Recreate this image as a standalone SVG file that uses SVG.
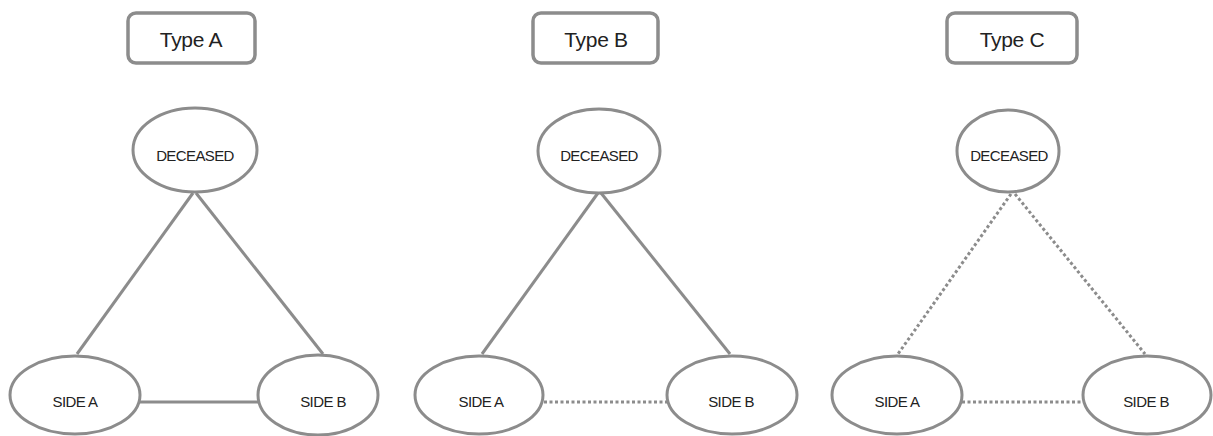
<svg xmlns="http://www.w3.org/2000/svg" width="1213" height="436" viewBox="0 0 1213 436">
<style>
.box{fill:#fff;stroke:#8c8c8c;stroke-width:3.5}
.node{fill:#fff;stroke:#8c8c8c;stroke-width:3}
.title{font-family:"Liberation Sans",Arial,sans-serif;font-size:21px;fill:#222;text-anchor:middle;letter-spacing:-0.3px}
.lbl{font-family:"Liberation Sans",Arial,sans-serif;font-size:15px;fill:#222;text-anchor:middle;letter-spacing:-0.6px}
.edge{fill:none;stroke:#8c8c8c;stroke-width:3}
.dot{stroke-dasharray:3 2.5}
</style>
<rect width="1213" height="436" fill="#fff"/>
<g id="connectors">
<line class="edge" x1="193" y1="193" x2="77" y2="354"/>
<line class="edge" x1="196" y1="193" x2="323" y2="354"/>
<line class="edge" x1="140" y1="402" x2="258" y2="402"/>
<line class="edge" x1="598" y1="193" x2="482" y2="354"/>
<line class="edge" x1="601" y1="193" x2="730" y2="354"/>
<line class="edge dot" x1="544" y1="402" x2="667" y2="402"/>
<line class="edge dot" x1="1011" y1="194" x2="898" y2="354"/>
<line class="edge dot" x1="1015" y1="194" x2="1145" y2="354"/>
<line class="edge dot" x1="962" y1="402" x2="1082" y2="402"/>
</g>
<g id="titleA"><rect class="box" x="128" y="13" width="127" height="50" rx="8"/><text class="title" x="191" y="47">Type A</text></g>
<g id="titleB"><rect class="box" x="533" y="13" width="125" height="50" rx="8"/><text class="title" x="596" y="47">Type B</text></g>
<g id="titleC"><rect class="box" x="947" y="13" width="130" height="50" rx="8"/><text class="title" x="1012" y="47">Type C</text></g>
<g id="deceasedA"><ellipse class="node" cx="195" cy="150" rx="62" ry="42"/><text class="lbl" x="195" y="161">DECEASED</text></g>
<g id="deceasedB"><ellipse class="node" cx="599" cy="151" rx="61" ry="42"/><text class="lbl" x="599" y="161">DECEASED</text></g>
<g id="deceasedC"><ellipse class="node" cx="1008" cy="151" rx="51" ry="41"/><text class="lbl" x="1009" y="161">DECEASED</text></g>
<g id="sideA_A"><ellipse class="node" cx="75" cy="395" rx="65" ry="39"/><text class="lbl" x="75" y="407">SIDE A</text></g>
<g id="sideB_A"><ellipse class="node" cx="318" cy="395" rx="60" ry="40"/><text class="lbl" x="323" y="407">SIDE B</text></g>
<g id="sideA_B"><ellipse class="node" cx="479" cy="395" rx="64" ry="39"/><text class="lbl" x="481" y="407">SIDE A</text></g>
<g id="sideB_B"><ellipse class="node" cx="732" cy="395" rx="65" ry="39"/><text class="lbl" x="731" y="407">SIDE B</text></g>
<g id="sideA_C"><ellipse class="node" cx="897" cy="395" rx="65" ry="39"/><text class="lbl" x="897" y="407">SIDE A</text></g>
<g id="sideB_C"><ellipse class="node" cx="1147" cy="395" rx="64" ry="39"/><text class="lbl" x="1146" y="407">SIDE B</text></g>
</svg>
